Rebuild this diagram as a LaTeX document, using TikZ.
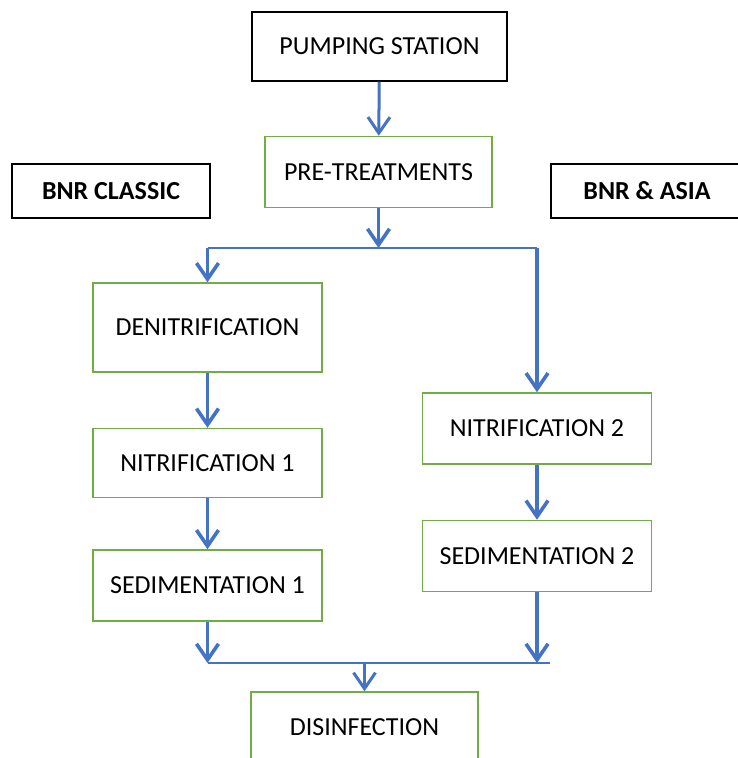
\documentclass[tikz,border=0pt]{standalone}
\usepackage{fontspec}
\setmainfont{Carlito}
\usetikzlibrary{arrows.meta, positioning}

\definecolor{stagegreen}{HTML}{70AD47}
\definecolor{flowblue}{HTML}{4472C4}

\begin{document}
\begin{tikzpicture}[x=1pt, y=-1pt, node distance=55pt]
\tikzstyle{stage}=[rectangle, minimum width=229pt, minimum height=71pt, inner sep=0pt, text centered, draw=stagegreen, line width=1.5pt, font=\fontsize{26}{30}\selectfont]
\tikzstyle{plant}=[stage, draw=black]
\tikzstyle{scheme}=[plant, minimum height=54pt, font=\fontsize{26}{30}\selectfont\bfseries]
\tikzstyle{arrow}=[draw=flowblue, line width=3.6pt, -{Straight Barb[length=16pt, width=22pt]}]
\tikzstyle{branch}=[draw=flowblue, line width=2.2pt]

\useasboundingbox (0,0) rectangle (737,758);

\node (pump) [plant, minimum width=255pt, minimum height=69pt] at (379.5,46.5) {PUMPING STATION};
\node (pre) [stage, minimum width=227pt, below=54pt of pump, xshift=-1pt] {PRE-TREATMENTS};
\node (classic) [scheme, minimum width=198pt] at (111,191) {BNR CLASSIC};
\node (asia) [scheme, minimum width=192pt] at (647,191) {BNR \& ASIA};

% left line
\node (denit) [stage, minimum height=89pt] at (207.5,327.5) {DENITRIFICATION};
\node (nitr1) [stage, minimum height=69pt, below=of denit] {NITRIFICATION 1};
\node (sed1) [stage, below=51pt of nitr1] {SEDIMENTATION 1};

% right line
\node (nitr2) [stage] at (537,428.5) {NITRIFICATION 2};
\node (sed2) [stage, below=of nitr2] {SEDIMENTATION 2};

\node (disinf) [stage, minimum width=227pt, minimum height=70pt] at (364.5,727) {DISINFECTION};

\coordinate (split) at (378.5,248);
\coordinate (splitL) at (207.5,248);
\coordinate (splitR) at (537,248);
\coordinate (mergeL) at (207.5,663);
\coordinate (mergeS) at (537,663);
\coordinate (mergeR) at (550,663);
\coordinate (merge) at (364.5,663);

\draw [arrow, line width=3pt] (pump) -- (pre);
\draw [arrow] (pre) -- (split);
\draw [branch] (splitL) -- (splitR);
\draw [arrow] (splitL) -- (denit);
\draw [arrow] (splitR) -- (nitr2);
\draw [arrow] (denit) -- (nitr1);
\draw [arrow] (nitr1) -- (sed1);
\draw [arrow] (nitr2) -- (sed2);
\draw [arrow] (sed1) -- (mergeL);
\draw [arrow] (sed2) -- (mergeS);
\draw [branch] (mergeL) -- (mergeR);
\draw [arrow, line width=3pt] (merge) -- (disinf);

\end{tikzpicture}
\end{document}
